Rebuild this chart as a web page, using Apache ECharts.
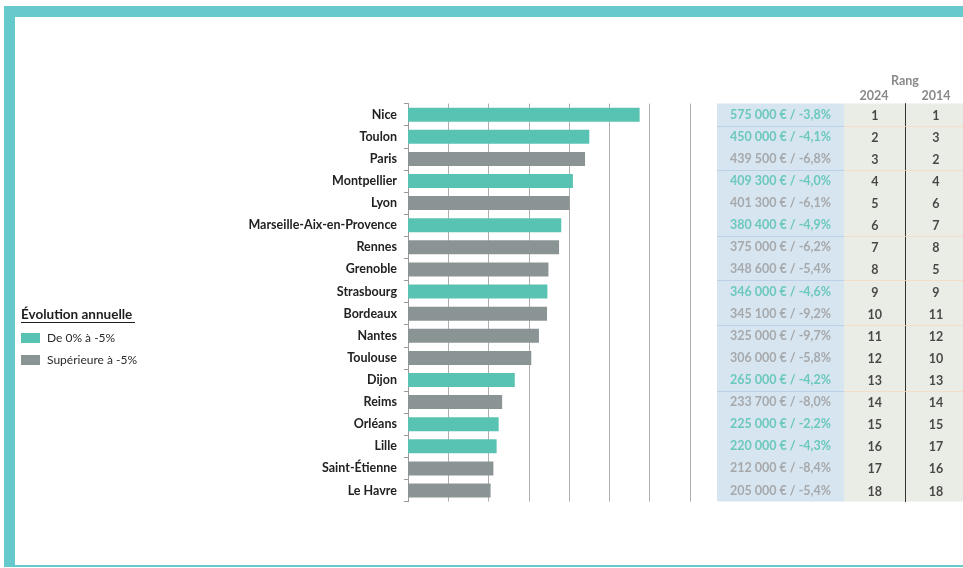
<!DOCTYPE html>
<html>
<head>
<meta charset="utf-8">
<title>Prix immobiliers des grandes villes</title>
<script src="https://cdn.jsdelivr.net/npm/echarts@6/dist/echarts.min.js"></script>
<style>
  html, body { margin: 0; padding: 0; background: #ffffff; }
  #chart { width: 963px; height: 568px; }
</style>
</head>
<body>
<div id="chart"></div>
<script>
// Villes, du prix le plus élevé au plus bas
const cities = ['Nice', 'Toulon', 'Paris', 'Montpellier', 'Lyon', 'Marseille-Aix-en-Provence',
  'Rennes', 'Grenoble', 'Strasbourg', 'Bordeaux', 'Nantes', 'Toulouse', 'Dijon', 'Reims',
  'Orléans', 'Lille', 'Saint-Étienne', 'Le Havre'];
// Prix (€)
const prices = [575000, 450000, 439500, 409300, 401300, 380400, 375000, 348600, 346000,
  345100, 325000, 306000, 265000, 233700, 225000, 220000, 212000, 205000];
// Évolution annuelle (%)
const evolutions = [-3.8, -4.1, -6.8, -4.0, -6.1, -4.9, -6.2, -5.4, -4.6, -9.2, -9.7, -5.8,
  -4.2, -8.0, -2.2, -4.3, -8.4, -5.4];
// Rangs
const rank2024 = [1, 2, 3, 4, 5, 6, 7, 8, 9, 10, 11, 12, 13, 14, 15, 16, 17, 18];
const rank2014 = [1, 3, 2, 4, 6, 7, 8, 5, 9, 11, 12, 10, 13, 14, 15, 17, 16, 18];
// Lignes du tableau précédées d'un filet
const separatorRows = [1, 3, 6, 8, 10, 13];
// Graduations de l'axe des prix
const valueTicks = [0, 100000, 200000, 300000, 400000, 500000, 600000, 700000];
const legendNames = ['De 0% à -5%', 'Supérieure à -5%'];

const TEAL = '#58c3b3';
const GREY = '#8b9494';
const FONT = 'Lato, "Open Sans", sans-serif';

const isMild = (i) => evolutions[i] > -5;

function fmtPrice(v) {
  return String(v).replace(/\B(?=(\d{3})+(?!\d))/g, ' ') + ' €';
}
function fmtEvol(v) {
  return v.toFixed(1).replace('.', ',') + '%';
}

const chart = echarts.init(document.getElementById('chart'), null, { renderer: 'canvas' });

const TOP = 103.6;
const HEIGHT = 398;

function catAxis(gridIndex, extra) {
  return Object.assign({
    type: 'category', gridIndex: gridIndex, data: cities, inverse: true,
    axisLine: { show: false }, axisTick: { show: false }, axisLabel: { show: false },
    splitLine: { show: false }
  }, extra || {});
}
function unitAxis(gridIndex) {
  return { type: 'value', gridIndex: gridIndex, min: 0, max: 1, show: false };
}

function separatorSeries(xAxisIndex, color) {
  return {
    type: 'custom', xAxisIndex: xAxisIndex, yAxisIndex: xAxisIndex, silent: true, z: 3,
    data: separatorRows.map(r => [0, r]),
    encode: { x: 0, y: 1 },
    renderItem: function (params, api) {
      const band = api.size([0, 1])[1];
      const y = Math.round(api.coord([0, api.value(1)])[1] - band / 2) + 0.5;
      const cs = params.coordSys;
      return {
        type: 'line',
        shape: { x1: cs.x, y1: y, x2: cs.x + cs.width, y2: y },
        style: { stroke: color, lineWidth: 1 }
      };
    }
  };
}

function textSeries(xAxisIndex, texts, colors, xPos, offsetY, size) {
  return {
    type: 'scatter', xAxisIndex: xAxisIndex, yAxisIndex: xAxisIndex, silent: true, z: 4,
    symbolSize: 0.001, itemStyle: { color: 'rgba(0,0,0,0)' },
    data: texts.map((t, i) => ({
      value: [xPos, i],
      label: { formatter: t, color: colors[i] }
    })),
    label: {
      show: true, position: 'inside', offset: [0, offsetY],
      fontFamily: FONT, fontWeight: 'bold', fontSize: size
    }
  };
}

const valueTexts = prices.map((p, i) => fmtPrice(p) + ' / ' + fmtEvol(evolutions[i]));
const valueColors = prices.map((p, i) => isMild(i) ? '#4fc0b0' : '#9a9a9a');
const darkColors = cities.map(() => '#1e1e1e');

const option = {
  animation: false,
  backgroundColor: '#ffffff',
  textStyle: { fontFamily: FONT },
  grid: [
    { left: 408, top: TOP, width: 282, height: HEIGHT, containLabel: false },
    { left: 717, top: TOP, width: 127, height: HEIGHT, show: true, backgroundColor: '#d7e5f0', borderWidth: 0 },
    { left: 844, top: TOP, width: 61.5, height: HEIGHT, show: true, backgroundColor: '#eaece6', borderWidth: 0 },
    { left: 905.5, top: TOP, width: 57.5, height: HEIGHT, show: true, backgroundColor: '#eaece6', borderWidth: 0 }
  ],
  xAxis: [
    {
      type: 'value', gridIndex: 0, min: valueTicks[0], max: valueTicks[valueTicks.length - 1],
      interval: valueTicks[1] - valueTicks[0],
      axisLine: { show: false }, axisTick: { show: false }, axisLabel: { show: false },
      splitLine: { show: true, lineStyle: { color: '#aeaeae', width: 1 } }
    },
    unitAxis(1), unitAxis(2), unitAxis(3)
  ],
  yAxis: [
    catAxis(0, {
      axisLine: { show: true, lineStyle: { color: '#9a9a9a', width: 1 } },
      axisTick: { show: true, length: 4, lineStyle: { color: '#9a9a9a' } },
      axisLabel: { show: true, margin: 11, color: '#222222', fontFamily: FONT, fontWeight: 'bold', fontSize: 12.5 }
    }),
    catAxis(1),
    catAxis(2),
    catAxis(3, { axisLine: { show: true, onZero: false, lineStyle: { color: '#333333', width: 1 } } })
  ],
  legend: {
    orient: 'vertical', left: 21, top: 332, padding: 0,
    itemWidth: 19, itemHeight: 10, itemGap: 10, icon: 'rect',
    selectedMode: false,
    data: legendNames,
    textStyle: { color: '#2a2a2a', fontSize: 12, fontFamily: FONT, padding: [0, 0, 0, 2] }
  },
  series: [
    {
      name: legendNames[0], type: 'bar', stack: 'prix', barWidth: 14,
      xAxisIndex: 0, yAxisIndex: 0, itemStyle: { color: TEAL },
      data: prices.map((p, i) => isMild(i) ? p : '-')
    },
    {
      name: legendNames[1], type: 'bar', stack: 'prix', barWidth: 14,
      xAxisIndex: 0, yAxisIndex: 0, itemStyle: { color: GREY },
      data: prices.map((p, i) => isMild(i) ? '-' : p)
    },
    separatorSeries(1, '#bcd0e8'),
    separatorSeries(2, '#f3dfc9'),
    separatorSeries(3, '#f3dfc9'),
    textSeries(1, valueTexts, valueColors, 0.5, 0, 12.5),
    textSeries(2, rank2024.map(String), darkColors, 0.5, 1, 12.5),
    textSeries(3, rank2014.map(String), darkColors, 0.53, 1, 12.5)
  ],
  graphic: [
    // cadre
    { type: 'rect', silent: true, shape: { x: 4, y: 6, width: 959, height: 11 }, style: { fill: '#66c9cc' } },
    { type: 'rect', silent: true, shape: { x: 4, y: 6, width: 11, height: 560 }, style: { fill: '#66c9cc' } },
    { type: 'rect', silent: true, shape: { x: 4, y: 565, width: 959, height: 2 }, style: { fill: '#66c9cc' } },
    // titre de la légende
    {
      type: 'text', left: 21, top: 308, silent: true,
      style: { text: 'Évolution annuelle', fill: '#1e1e1e', font: 'bold 13.5px ' + FONT }
    },
    { type: 'rect', silent: true, shape: { x: 21, y: 322, width: 114, height: 1 }, style: { fill: '#1e1e1e' } },
    // en-têtes du tableau
    {
      type: 'text', x: 905, y: 81, silent: true,
      style: { text: 'Rang', fill: '#8a8a8a', font: 'bold 12.5px ' + FONT, align: 'center', verticalAlign: 'middle' }
    },
    {
      type: 'text', x: 874, y: 96, silent: true,
      style: { text: '2024', fill: '#8a8a8a', font: 'bold 12.5px ' + FONT, align: 'center', verticalAlign: 'middle' }
    },
    {
      type: 'text', x: 936, y: 96, silent: true,
      style: { text: '2014', fill: '#8a8a8a', font: 'bold 12.5px ' + FONT, align: 'center', verticalAlign: 'middle' }
    }
  ]
};

chart.setOption(option);
</script>
</body>
</html>
